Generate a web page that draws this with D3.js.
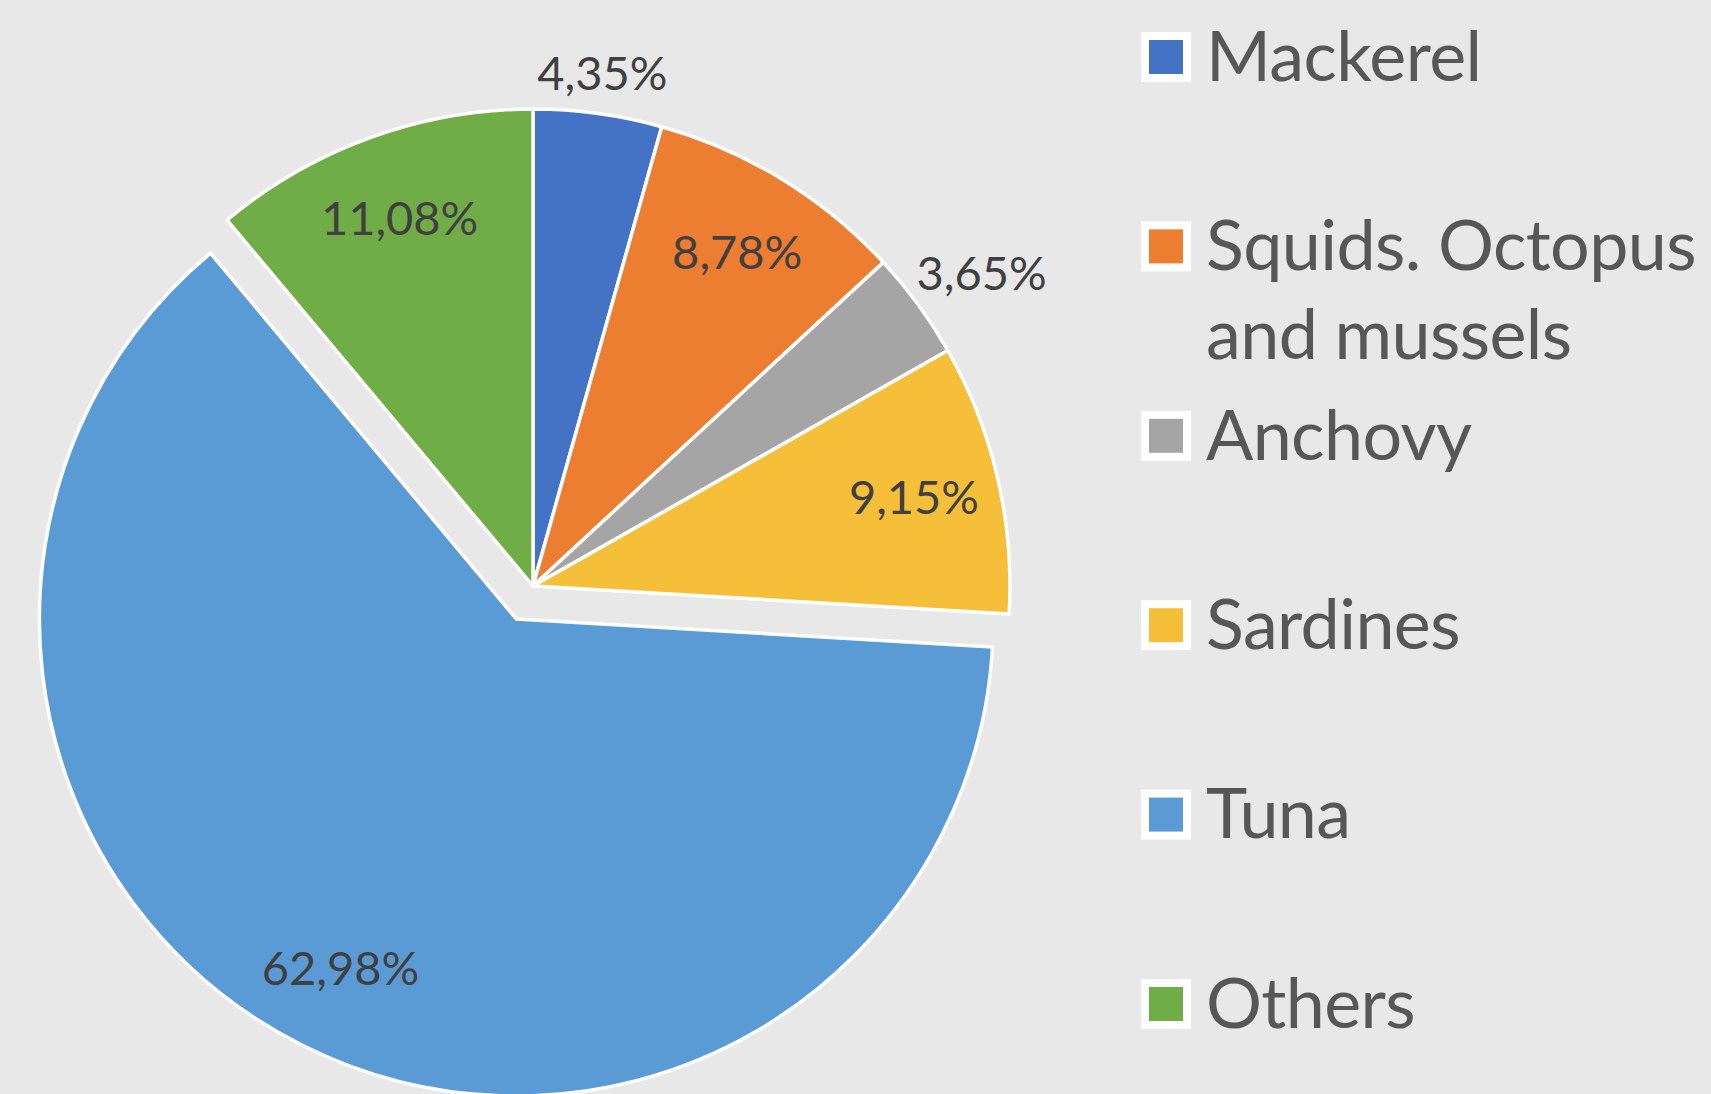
<!DOCTYPE html>
<html>
<head>
<meta charset="utf-8">
<script src="https://cdn.jsdelivr.net/npm/d3@7/dist/d3.min.js"></script>
<style>
  body { margin: 0; background: #e8e8e8; overflow: hidden; }
  svg { display: block; }
</style>
</head>
<body>
<svg id="chart"></svg>
<script>
// data (percent share by species)
var categories = ['Mackerel', 'Squids. Octopus and mussels', 'Anchovy', 'Sardines', 'Tuna', 'Others']
var legendLines = [['Mackerel'], ['Squids. Octopus', 'and mussels'], ['Anchovy'], ['Sardines'], ['Tuna'], ['Others']]
var shares = [4.35, 8.78, 3.65, 9.15, 62.98, 11.08]
var colors = ['#4472c4', '#ed7d31', '#a5a5a5', '#f5bf3a', '#5b9bd5', '#70ad47']
var explodedSlices = ['Tuna']

var width = 1711
var height = 1094
var cx = 533, cy = 586
var radius = 477
var explodeBy = 37
var labelFont = 'Lato, "Open Sans", sans-serif'

var comma = d3.formatLocale({ decimal: ',', thousands: '.', grouping: [3], currency: ['', ''] })
var fmt = comma.format('.2f')

var rows = categories.map(function (c, i) {
    return { name: c, share: shares[i], color: colors[i], lines: legendLines[i] }
})

var svg = d3.select('#chart').attr('width', width).attr('height', height)

svg.append('rect').attr('width', width).attr('height', height).attr('fill', '#e8e8e8')

var pie = d3.pie().sort(null).value(function (d) { return d.share })
var arcs = pie(rows)
var arc = d3.arc().innerRadius(0).outerRadius(radius)

function shift(d) {
    if (explodedSlices.indexOf(d.data.name) < 0) return [0, 0]
    var mid = (d.startAngle + d.endAngle) / 2
    return [Math.sin(mid) * explodeBy, -Math.cos(mid) * explodeBy]
}

var pieG = svg.append('g').attr('transform', 'translate(' + cx + ',' + cy + ')')

pieG.selectAll('path.slice')
    .data(arcs)
    .enter().append('path')
    .attr('class', 'slice')
    .attr('transform', function (d) { return 'translate(' + shift(d) + ')' })
    .attr('d', arc)
    .attr('fill', function (d) { return d.data.color })
    .attr('stroke', '#ffffff')
    .attr('stroke-width', 3.5)
    .attr('stroke-linejoin', 'round')

// inside labels for big slices, outside-end for the thin ones
var inner = d3.arc().innerRadius(radius * 0.82).outerRadius(radius * 0.82)
var outer = d3.arc().innerRadius(radius + 22).outerRadius(radius + 22)

pieG.selectAll('text.lbl')
    .data(arcs)
    .enter().append('text')
    .attr('class', 'lbl')
    .attr('transform', function (d) {
        var s = shift(d)
        var p
        if (d.data.share < 5) {
            var mid = (d.startAngle + d.endAngle) / 2
            var sn = Math.sin(mid)
            p = outer.centroid(d)
            p = [p[0] + sn * Math.abs(sn) * 70, p[1] - 18]
        } else {
            p = inner.centroid(d)
        }
        return 'translate(' + (p[0] + s[0]) + ',' + (p[1] + s[1]) + ')'
    })
    .attr('text-anchor', 'middle')
    .attr('dy', '0.35em')
    .style('font-family', labelFont)
    .style('font-size', '47px')
    .attr('fill', '#404040')
    .text(function (d) { return fmt(d.data.share) + '%' })

// legend
var legendY = d3.scaleLinear().domain([0, categories.length - 1]).range([57, 1004])

var item = svg.append('g').selectAll('g.item')
    .data(rows)
    .enter().append('g')
    .attr('class', 'item')
    .attr('transform', function (d, i) { return 'translate(1166,' + legendY(i) + ')' })

item.append('rect')
    .attr('x', -25).attr('y', -25).attr('width', 50).attr('height', 50)
    .attr('fill', '#ffffff')

item.append('rect')
    .attr('x', -17).attr('y', -17).attr('width', 34).attr('height', 34)
    .attr('fill', function (d) { return d.color })

item.append('text')
    .style('font-family', labelFont)
    .style('font-size', '70px')
    .style('letter-spacing', '-0.6px')
    .attr('fill', '#575757')
    .selectAll('tspan')
    .data(function (d) { return d.lines })
    .enter().append('tspan')
    .attr('x', 40)
    .attr('y', function (l, j) { return j * 89 })
    .attr('dy', '0.34em')
    .text(function (l) { return l })
</script>
</body>
</html>
